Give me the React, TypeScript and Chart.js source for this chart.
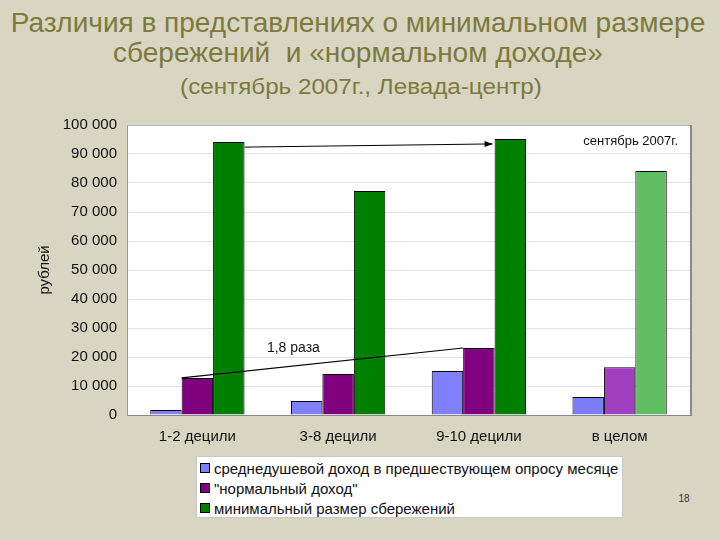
import React, { useEffect, useRef } from "react";
import { Chart, registerables } from "chart.js";

Chart.register(...registerables);

const categories = ["1-2 децили", "3-8 децили", "9-10 децили", "в целом"];
const avgIncome = [1700, 4800, 15200, 6200];
const normalIncome = [12800, 14100, 23100, 16500];
const minSavings = [94100, 77200, 95200, 84100];
const yMin = 0;
const yMax = 100000;
const yStep = 10000;

const seriesNames = [
  "среднедушевой доход в предшествующем опросу месяце",
  "\"нормальный доход\"",
  "минимальный размер сбережений",
];
const blueColors = ["#8080ff", "#8080ff", "#8080ff", "#7c7cf8"];
const purpleColors = ["#800080", "#800080", "#800080", "#a040c0"];
const greenColors = ["#008000", "#008000", "#008000", "#62be62"];
const legendColors = ["#8080ff", "#800080", "#008000"];

const titleLines = [
  "Различия в представлениях о минимальном размере",
  "сбережений  и «нормальном доходе»",
];
const subTitle = "(сентябрь 2007г., Левада-центр)";
const yAxisTitle = "рублей";
const periodNote = "сентябрь 2007г.";
const ratioNote = "1,8 раза";
const pageNumber = "18";

const FONT = "'Liberation Sans', Arial, sans-serif";

const fmt = (v: number) => {
  const s = String(Math.round(v));
  return s.replace(/\B(?=(\d{3})+(?!\d))/g, " ");
};

const plotBgPlugin = {
  id: "plotBg",
  beforeDraw(chart: any) {
    const { ctx, chartArea } = chart;
    ctx.save();
    ctx.fillStyle = "#ffffff";
    ctx.fillRect(chartArea.left, chartArea.top, chartArea.right - chartArea.left, chartArea.bottom - chartArea.top);
    ctx.restore();
  },
  afterDraw(chart: any) {
    const { ctx, chartArea } = chart;
    ctx.save();
    ctx.strokeStyle = "#b8b8b8";
    ctx.lineWidth = 1;
    ctx.beginPath();
    ctx.moveTo(chartArea.left, chartArea.top + 0.5);
    ctx.lineTo(chartArea.right, chartArea.top + 0.5);
    ctx.stroke();
    ctx.strokeStyle = "#8a8a8a";
    ctx.lineWidth = 2;
    ctx.beginPath();
    ctx.moveTo(chartArea.right + 1, chartArea.top);
    ctx.lineTo(chartArea.right + 1, chartArea.bottom + 1);
    ctx.stroke();
    ctx.restore();
  },
};

const annotationPlugin = {
  id: "annot",
  afterDatasetsDraw(chart: any) {
    const { ctx, chartArea } = chart;
    const purple = chart.getDatasetMeta(1).data;
    const green = chart.getDatasetMeta(2).data;
    ctx.save();
    ctx.strokeStyle = "#000";
    ctx.fillStyle = "#000";
    ctx.lineWidth = 1;
    // upper arrow: green bar 1 -> green bar 3
    const g0: any = green[0];
    const g2: any = green[2];
    const x1 = g0.x + g0.width / 2;
    const y1 = g0.y + 5;
    const x2 = g2.x - g2.width / 2 - 2;
    const y2 = g2.y + 5;
    ctx.beginPath();
    ctx.moveTo(x1, y1);
    ctx.lineTo(x2, y2);
    ctx.stroke();
    const ang = Math.atan2(y2 - y1, x2 - x1);
    ctx.beginPath();
    ctx.moveTo(x2, y2);
    ctx.lineTo(x2 - 8 * Math.cos(ang) + 3 * Math.sin(ang), y2 - 8 * Math.sin(ang) - 3 * Math.cos(ang));
    ctx.lineTo(x2 - 8 * Math.cos(ang) - 3 * Math.sin(ang), y2 - 8 * Math.sin(ang) + 3 * Math.cos(ang));
    ctx.closePath();
    ctx.fill();
    // lower line: purple bar 1 -> purple bar 3
    const p0: any = purple[0];
    const p2: any = purple[2];
    const lx1 = p0.x - p0.width / 2;
    const ly1 = p0.y;
    const lx2 = p2.x - p2.width / 2;
    const ly2 = p2.y;
    ctx.lineWidth = 1.2;
    ctx.beginPath();
    ctx.moveTo(lx1, ly1);
    ctx.lineTo(lx2, ly2);
    ctx.stroke();
    ctx.font = "14px " + FONT;
    ctx.textAlign = "center";
    ctx.textBaseline = "middle";
    ctx.fillStyle = "#111";
    ctx.fillText(ratioNote, (lx1 + lx2) / 2 - 29, (ly1 + ly2) / 2 - 15);
    ctx.font = "13px " + FONT;
    ctx.textAlign = "right";
    ctx.fillText(periodNote, chartArea.right - 12, chartArea.top + 16);
    ctx.restore();
  },
};

export default function App() {
  const canvasRef = useRef<HTMLCanvasElement | null>(null);

  useEffect(() => {
    if (!canvasRef.current) return;
    const chart = new Chart(canvasRef.current, {
      type: "bar",
      data: {
        labels: categories,
        datasets: [
          { label: seriesNames[0], data: avgIncome, backgroundColor: blueColors, borderColor: "#000", borderWidth: 1 },
          { label: seriesNames[1], data: normalIncome, backgroundColor: purpleColors, borderColor: "#000", borderWidth: 1 },
          { label: seriesNames[2], data: minSavings, backgroundColor: greenColors, borderColor: "#000", borderWidth: 1 },
        ],
      },
      options: {
        responsive: false,
        maintainAspectRatio: false,
        animation: false,
        devicePixelRatio: 1,
        layout: { padding: { left: 0, right: 30, top: 25, bottom: 0 } },
        datasets: { bar: { categoryPercentage: 0.67, barPercentage: 1.0 } },
        plugins: {
          legend: { display: false },
          tooltip: { enabled: false },
          title: { display: false },
        },
        scales: {
          x: {
            grid: { display: false, drawTicks: false },
            border: { display: true, color: "#888" },
            ticks: { color: "#111", font: { family: FONT, size: 15 }, padding: 13 },
            afterFit: (s: any) => {
              s.height = 35;
            },
          },
          y: {
            min: yMin,
            max: yMax,
            grid: { color: "#e2e2e2", drawTicks: false },
            border: { display: true, color: "#999" },
            ticks: {
              stepSize: yStep,
              color: "#111",
              font: { family: FONT, size: 15 },
              padding: 10,
              callback: (v: any) => fmt(Number(v)),
            },
            title: {
              display: true,
              text: yAxisTitle,
              color: "#111",
              font: { family: FONT, size: 15 },
              padding: { top: 36, bottom: 0 },
            },
            afterFit: (s: any) => {
              s.width = 127;
            },
          },
        },
      },
      plugins: [plotBgPlugin, annotationPlugin],
    } as any);
    return () => chart.destroy();
  }, []);

  return (
    <div
      style={{
        position: "absolute",
        left: 0,
        top: 0,
        width: 720,
        height: 540,
        overflow: "hidden",
        background: "#d8d5c2",
        fontFamily: FONT,
      }}
    >
      <div style={{ position: "absolute", left: -2, top: 8, width: 720, textAlign: "center", color: "#7c7a3c", fontSize: 28, lineHeight: "30px", whiteSpace: "pre" }}>
        {titleLines[0]}
        {"\n"}
        {titleLines[1]}
      </div>
      <div
        style={{
          position: "absolute",
          left: 1,
          top: 74,
          width: 720,
          textAlign: "center",
          color: "#7c7a3c",
          fontSize: 22,
          lineHeight: "26px",
          transform: "scaleX(1.1)",
          transformOrigin: "center",
        }}
      >
        {subTitle}
      </div>
      <canvas
        ref={canvasRef}
        width={720}
        height={350}
        style={{ position: "absolute", left: 0, top: 100, width: 720, height: 350 }}
      />
      <div
        style={{
          position: "absolute",
          left: 196,
          top: 456,
          width: 427,
          height: 62,
          boxSizing: "border-box",
          background: "#fff",
          border: "1px solid #c8c8c8",
          paddingTop: 1,
        }}
      >
        {seriesNames.map((n, i) => (
          <div key={n} style={{ display: "flex", alignItems: "center", height: 20, fontSize: 15, color: "#111", whiteSpace: "nowrap" }}>
            <span
              style={{
                display: "inline-block",
                width: 8,
                height: 8,
                marginLeft: 3,
                marginRight: 4,
                background: legendColors[i],
                border: "1px solid #000",
              }}
            />
            {n}
          </div>
        ))}
      </div>
      <div style={{ position: "absolute", left: 674, top: 493, width: 20, textAlign: "center", fontSize: 10, color: "#333" }}>
        {pageNumber}
      </div>
    </div>
  );
}
